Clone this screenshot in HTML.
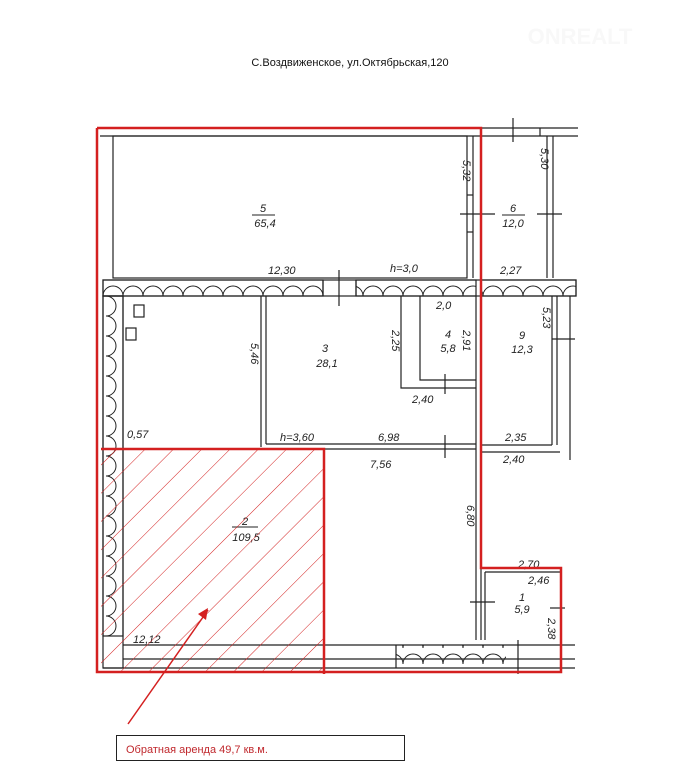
<!DOCTYPE html>
<html><head><meta charset="utf-8"><style>
html,body{margin:0;padding:0;background:#fff;width:673px;height:769px;overflow:hidden}
svg{display:block}
text{font-family:"Liberation Sans",sans-serif}
.h{font-style:italic;font-size:11px;fill:#222}
</style></head><body>
<svg width="673" height="769" viewBox="0 0 673 769" xmlns="http://www.w3.org/2000/svg">
<defs>
<pattern id="hatch" patternUnits="userSpaceOnUse" width="20" height="20" patternTransform="rotate(45)">
<line x1="0" y1="0" x2="0" y2="20" stroke="#d42020" stroke-width="1"/>
</pattern>
<pattern id="scH" patternUnits="userSpaceOnUse" width="20" height="16" x="103" y="280">
<path d="M0 16 A10 10 0 0 1 20 16" fill="none" stroke="#222" stroke-width="1"/>
</pattern>
<pattern id="scV" patternUnits="userSpaceOnUse" width="20" height="20" x="103" y="296">
<path d="M0 0 A10 10 0 0 1 0 20" fill="none" stroke="#222" stroke-width="1" transform="translate(3,0)"/>
</pattern>
</defs>
<text x="350" y="66" font-size="11" text-anchor="middle" fill="#111">С.Воздвиженское, ул.Октябрьская,120</text>
<text x="580" y="44" font-size="22" font-weight="bold" text-anchor="middle" fill="#f8f8f8">ONREALT</text>
<g stroke="#222" fill="none" stroke-width="1.2">
<line x1="100" y1="128" x2="578" y2="128"/>
<line x1="100" y1="136" x2="578" y2="136"/>
<line x1="513" y1="118" x2="513" y2="142"/>
<line x1="540" y1="128" x2="540" y2="136"/>
<rect x="113" y="136" width="354" height="142"/>
<line x1="473" y1="136" x2="473" y2="278"/>
<line x1="460" y1="214" x2="495" y2="214"/>
<line x1="467" y1="195" x2="473" y2="195"/><line x1="467" y1="232" x2="473" y2="232"/>
<line x1="547" y1="136" x2="547" y2="278"/><line x1="553" y1="136" x2="553" y2="278"/>
<line x1="537" y1="214" x2="562" y2="214"/>
<rect x="103" y="280" width="473" height="16"/>
<rect x="103" y="280" width="220" height="16" fill="url(#scH)"/>
<rect x="356" y="280" width="120" height="16" fill="url(#scH)"/>
<rect x="481" y="280" width="95" height="16" fill="url(#scH)"/>
<line x1="323" y1="280" x2="323" y2="296"/><line x1="356" y1="280" x2="356" y2="296"/>
<line x1="339" y1="270" x2="339" y2="306"/>
<rect x="103" y="296" width="20" height="372"/>
<rect x="103" y="296" width="20" height="340" fill="url(#scV)"/>
<rect x="134" y="305" width="10" height="12"/>
<rect x="126" y="328" width="10" height="12"/>
<line x1="261" y1="296" x2="261" y2="447"/><line x1="266" y1="296" x2="266" y2="444"/>
<line x1="266" y1="444" x2="476" y2="444"/><line x1="261" y1="449" x2="476" y2="449"/>
<line x1="445" y1="435" x2="445" y2="458"/>
<polyline points="401,296 401,388 476,388"/>
<polyline points="420,296 420,380 476,380"/>
<line x1="445" y1="374" x2="445" y2="394"/>
<line x1="476" y1="296" x2="476" y2="640"/><line x1="481" y1="296" x2="481" y2="640"/>
<line x1="552" y1="296" x2="552" y2="445"/><line x1="557" y1="296" x2="557" y2="445"/>
<line x1="570" y1="296" x2="570" y2="460"/>
<line x1="552" y1="339" x2="575" y2="339"/>
<line x1="481" y1="445" x2="552" y2="445"/><line x1="481" y1="452" x2="560" y2="452"/>
<line x1="485" y1="572" x2="560" y2="572"/><line x1="485" y1="572" x2="485" y2="640"/>
<line x1="470" y1="602" x2="495" y2="602"/>
<line x1="550" y1="608" x2="565" y2="608"/>
<line x1="123" y1="645" x2="575" y2="645"/>
<line x1="123" y1="659" x2="575" y2="659"/>
<line x1="103" y1="668" x2="575" y2="668"/>
<rect x="396" y="645" width="110" height="23" fill="url(#scH)" stroke="none"/>
<line x1="396" y1="645" x2="396" y2="668"/>
<line x1="518" y1="640" x2="518" y2="674"/>
</g>
<g class="h" fill="#222">
<text x="263" y="212" class="h" text-anchor="middle">5</text>
<line x1="252" y1="215" x2="275" y2="215" stroke="#222"/>
<text x="265" y="227" class="h" text-anchor="middle">65,4</text>
<text x="513" y="212" class="h" text-anchor="middle">6</text>
<line x1="502" y1="215" x2="525" y2="215" stroke="#222"/>
<text x="513" y="227" class="h" text-anchor="middle">12,0</text>
<text x="268" y="274" class="h">12,30</text>
<text x="390" y="272" class="h">h=3,0</text>
<text x="500" y="274" class="h">2,27</text>
<text x="325" y="352" class="h" text-anchor="middle">3</text>
<text x="327" y="367" class="h" text-anchor="middle">28,1</text>
<text x="448" y="338" class="h" text-anchor="middle">4</text>
<text x="448" y="352" class="h" text-anchor="middle">5,8</text>
<text x="522" y="339" class="h" text-anchor="middle">9</text>
<text x="522" y="353" class="h" text-anchor="middle">12,3</text>
<text x="436" y="309" class="h">2,0</text>
<text x="412" y="403" class="h">2,40</text>
<text x="280" y="441" class="h">h=3,60</text>
<text x="378" y="441" class="h">6,98</text>
<text x="370" y="468" class="h">7,56</text>
<text x="505" y="441" class="h">2,35</text>
<text x="503" y="463" class="h">2,40</text>
<text x="127" y="438" class="h" font-size="9">0,57</text>
<text x="245" y="525" class="h" text-anchor="middle">2</text>
<line x1="232" y1="527" x2="258" y2="527" stroke="#222"/>
<text x="246" y="541" class="h" text-anchor="middle">109,5</text>
<text x="133" y="643" class="h">12,12</text>
<text x="518" y="568" class="h">2,70</text>
<text x="528" y="584" class="h" font-size="9">2,46</text>
<text x="522" y="601" class="h" text-anchor="middle">1</text>
<text x="522" y="613" class="h" text-anchor="middle">5,9</text>
<text class="h" transform="translate(463,160) rotate(90)">5,32</text>
<text class="h" transform="translate(541,148) rotate(90)">5,30</text>
<text class="h" transform="translate(251,343) rotate(90)">5,46</text>
<text class="h" transform="translate(392,330) rotate(90)">2,25</text>
<text class="h" transform="translate(463,330) rotate(90)">2,91</text>
<text class="h" transform="translate(543,307) rotate(90)">5,23</text>
<text class="h" transform="translate(467,505) rotate(90)">6,80</text>
<text class="h" font-size="9" transform="translate(548,618) rotate(90)">2,38</text>
</g>
<rect x="101" y="449" width="223" height="223" fill="url(#hatch)"/>
<g stroke="#d42020" fill="none" stroke-width="2.5">
<polyline points="97,128 481,128 481,568 561,568 561,672 97,672 97,128"/>
<polyline points="101,449 324,449 324,674"/>
<line x1="128" y1="724" x2="208" y2="610" stroke-width="1.5"/>
</g>
<polygon points="208,608 198,614 206,620" fill="#d42020"/>
<rect x="116.5" y="735.5" width="288" height="25" fill="#fff" stroke="#222" stroke-width="1"/>
<text x="126" y="753" font-size="11" fill="#c0282d">Обратная аренда 49,7  кв.м.</text>
</svg>
</body></html>
